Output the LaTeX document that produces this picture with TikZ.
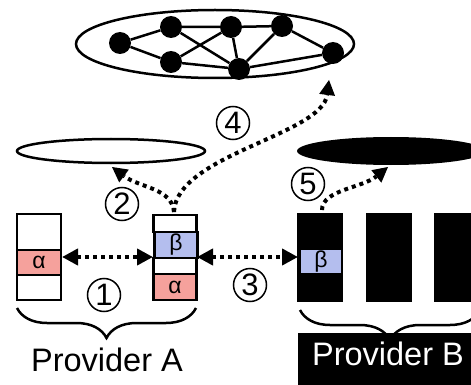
\documentclass[tikz,border=0pt]{standalone}
\usepackage{fontspec}
\setmainfont{Liberation Sans}
\usetikzlibrary{arrows.meta,decorations.pathreplacing}
\definecolor{alphapink}{HTML}{F5A19C}
\definecolor{betablue}{HTML}{B4BEEE}
\tikzset{
  gnode/.style={circle,fill=black,minimum size=22pt,inner sep=0pt},
  gedge/.style={line width=2.5pt},
  cell/.style={draw,line width=2.5pt,rectangle,inner sep=0pt,fill=white},
  bcol/.style={fill=black,rectangle,inner sep=0pt,minimum width=46pt,minimum height=89pt},
  dotarrow/.style={line width=4pt,dash pattern=on 4pt off 4pt,-{Triangle[length=15pt,width=16pt,line width=0pt]}},
  dblarrow/.style={line width=4pt,dash pattern=on 4pt off 4pt,{Triangle[length=16pt,width=16pt]}-{Triangle[length=16pt,width=16pt]}},
  circnum/.style={circle,draw,line width=1.5pt,minimum size=33pt,inner sep=0pt,font=\fontsize{31}{31}\selectfont},
  glabel/.style={font=\fontsize{23}{23}\selectfont,inner sep=0pt},
  prov/.style={font=\fontsize{32.5}{32.5}\selectfont,inner sep=0pt,anchor=base},
  bracestyle/.style={line width=2.5pt,decorate,decoration={brace,mirror,amplitude=30pt}}
}
\begin{document}
\begin{tikzpicture}[x=1pt,y=-1pt]
\useasboundingbox (0,0) rectangle (471,385);
% top graph ellipse
\draw[line width=2.5pt] (215,44) ellipse [x radius=139pt, y radius=34pt];
\node[gnode] (n1) at (120,43) {};
\node[gnode] (n2) at (171,27) {};
\node[gnode] (n3) at (231,27) {};
\node[gnode] (n4) at (282,26) {};
\node[gnode] (n5) at (333,53) {};
\node[gnode] (n6) at (171,62) {};
\node[gnode] (n7) at (239,69) {};
\draw[gedge] (n1)--(n2) (n1)--(n6) (n2)--(n3) (n3)--(n4) (n2)--(n7) (n6)--(n3)
  (n3)--(n7) (n4)--(n7) (n4)--(n5) (n6)--(n7) (n7)--(n5);
% middle ellipses
\draw[line width=2.5pt] (111,151) ellipse [x radius=94pt, y radius=12pt];
\coordinate (eA) at (112,167);
\fill (391,151) ellipse [x radius=94pt, y radius=14pt];
\coordinate (eB) at (388,167);
\coordinate (eTop) at (329,80);
% provider A columns
\node[cell,minimum width=44pt,minimum height=36pt] (a1t) at (39,232) {};
\node[cell,minimum width=44pt,minimum height=25pt,fill=alphapink,glabel] (a1a) at (39,262.5) {α};
\node[cell,minimum width=44pt,minimum height=25pt] (a1b) at (39,287.5) {};
\node[cell,minimum width=43pt,minimum height=17pt] (a2t) at (175,223.5) {};
\node[cell,minimum width=43pt,minimum height=26pt,fill=betablue,glabel] (a2b) at (176,245) {β};
\node[cell,minimum width=43pt,minimum height=16pt] (a2w) at (175,266) {};
\node[cell,minimum width=43pt,minimum height=26pt,fill=alphapink,glabel] (a2a) at (175,287) {α};
% provider B columns
\node[bcol] (b1) at (320,257.5) {};
\node[bcol] (b2) at (389,257.5) {};
\node[bcol] (b3) at (457,257.5) {};
\node[fill=betablue,minimum width=40pt,minimum height=23pt,inner sep=0pt,glabel] (b1b) at (321,261.5) {β};
% double arrows
\coordinate (a1r) at (62,257);
\coordinate (a2l) at (153,257);
\coordinate (a2r) at (197,257);
\coordinate (b1l) at (298,257);
\draw[dblarrow] (a1r) -- (a2l);
\draw[dblarrow] (a2r) -- (b1l);
% dotted arrows
\coordinate (a2top) at (174,212);
\coordinate (b1top) at (322,210);
\draw[dotarrow] (a2top) .. controls (172,188) and (140,188) .. (eA);
\draw[dotarrow] (a2top) .. controls (176,155) and (322,135) .. (eTop);
\draw[dotarrow] (b1top) .. controls (322,190) and (362,188) .. (eB);
% labels
\node[circnum] (l1) at (104,295) {1};
\node[circnum] (l2) at (122,204) {2};
\node[circnum] (l3) at (250,285) {3};
\node[circnum] (l4) at (233,123) {4};
\node[circnum] (l5) at (308,184) {5};
% braces
\draw[bracestyle] (17,308) -- (196,308);
\draw[bracestyle] (300,310) -- (480,310);
\node[prov] (pA) at (107,371) {Provider A};
\fill (298,333) rectangle (480,390);
\node[prov,text=white] (pB) at (388,365) {Provider B};
\end{tikzpicture}
\end{document}
